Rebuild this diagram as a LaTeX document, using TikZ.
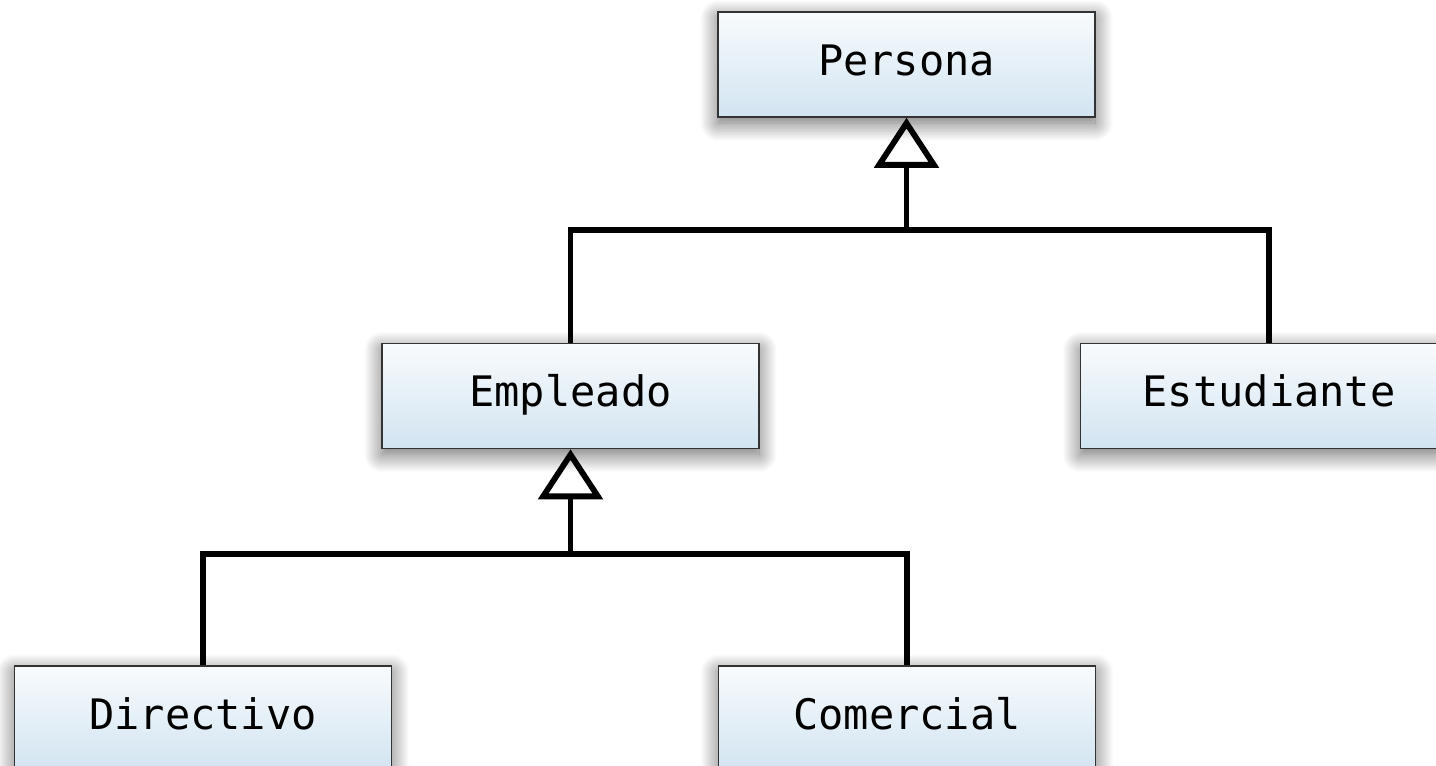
\documentclass[tikz,border=0pt]{standalone}
\usepackage{fontspec}
\setmonofont{DejaVu Sans Mono}
\usepackage{tikz}
\usetikzlibrary{arrows.meta,positioning,shadows.blur}
\definecolor{clasetop}{HTML}{F8FBFD}
\definecolor{clasebot}{HTML}{D2E4F1}

\begin{document}
\begin{tikzpicture}[
    x=0.5pt,
    y=-0.5pt,
    font=\ttfamily\fontsize{21}{26}\selectfont,
    clase/.style={
		rectangle,
		draw=black!80,
		line width=0.75pt,
		top color=clasetop,
		bottom color=clasebot,
		text centered,
		text height=15.5pt,
		text depth=5pt,
		minimum width=188.5pt,
		minimum height=52.5pt,
		inner sep=0pt,
		blur shadow={shadow xshift=0pt, shadow yshift=-3pt, shadow blur radius=9pt, shadow blur steps=24, shadow opacity=60}
	},
	enlace/.style={
		line width=2.9pt,
		line join=miter
	},
	herencia/.style={
		enlace,
		-{Triangle[open, length=25pt, width=32pt]}
	}
  ]
  \useasboundingbox (0,0) rectangle (1436,766);

    % We start by placing the classes
  \node [clase] (persona) at (906.5,64.5) {Persona};

  \node [clase, below=112.5pt of persona, xshift=-168pt] (empleado) {Empleado};

  \node [clase, right=160pt of empleado] (estudiante) {Estudiante};

  \node [clase, below=108pt of empleado, xshift=-183.75pt] (directivo) {Directivo};

  \node [clase, below=108pt of empleado, xshift=168.25pt] (comercial) {Comercial};

    % junctions of the inheritance lines
  \coordinate (union1) at (906.5,230);
  \coordinate (union2) at (570.5,554);

 \draw [herencia] (union1) -- (persona.south);
 \draw [enlace] (empleado.north) |- (union1) -| (estudiante.north);

 \draw [herencia] (union2) -- (empleado.south);
 \draw [enlace] (directivo.north) |- (union2) -| (comercial.north);

\end{tikzpicture}
\end{document}
